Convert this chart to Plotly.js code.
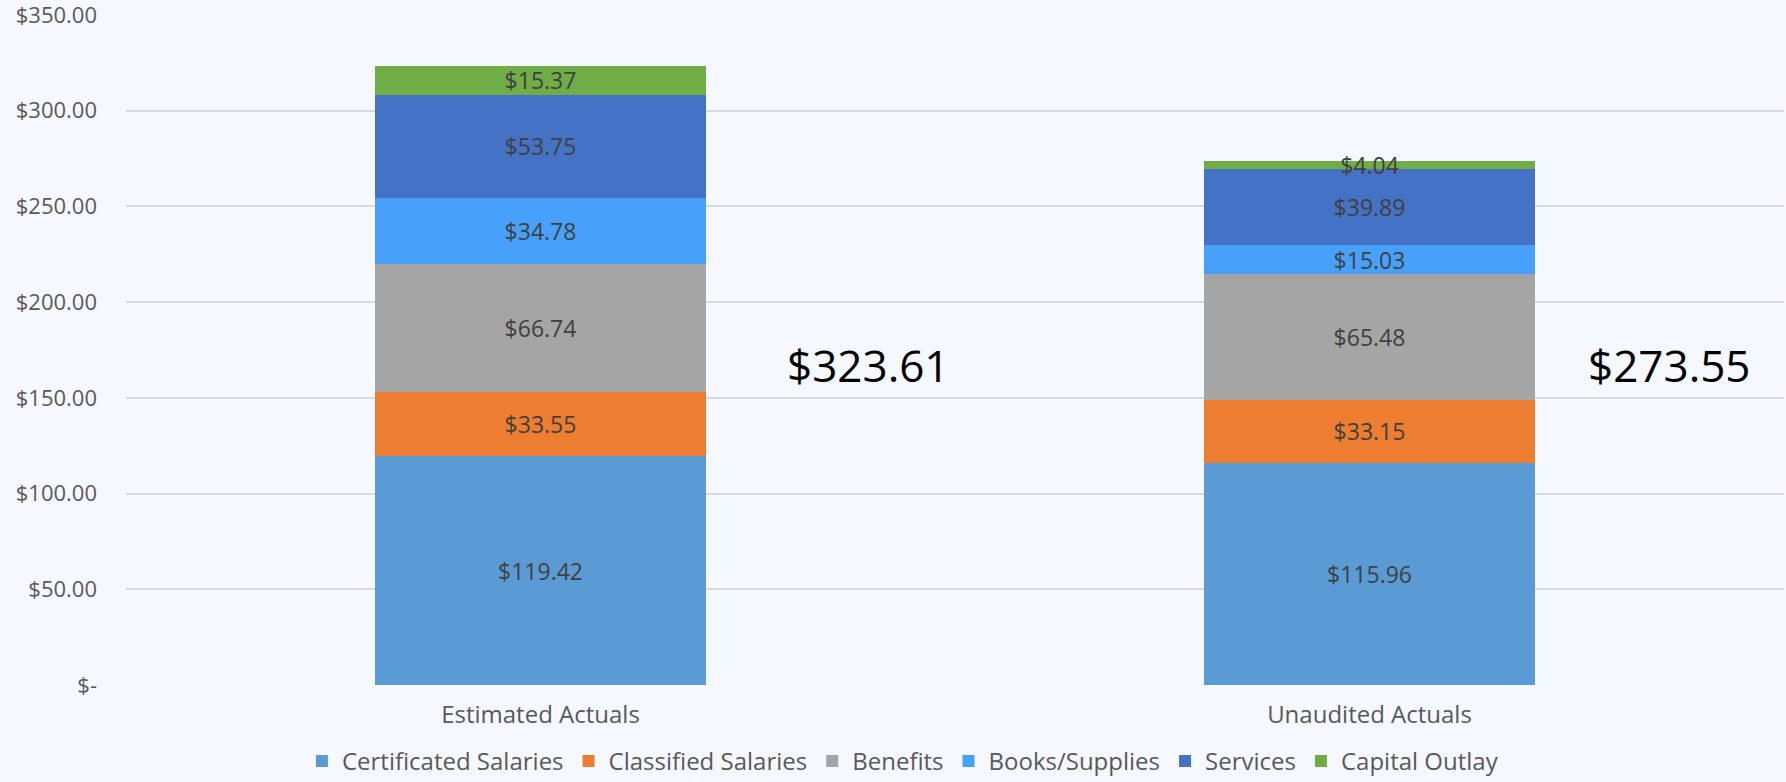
<!DOCTYPE html>
<html>
<head>
<meta charset="utf-8">
<script src="https://cdn.plot.ly/plotly-3.0.1.min.js"></script>
<style>html,body{margin:0;padding:0;background:#F5F8FE;}#chart{width:1786px;height:782px;}</style>
</head>
<body>
<div id="chart"></div>
<script>
const categories = ["Estimated Actuals", "Unaudited Actuals"];
const seriesNames = ["Certificated Salaries", "Classified Salaries", "Benefits", "Books/Supplies", "Services", "Capital Outlay"];
const certificated = [119.42, 115.96];
const classified = [33.55, 33.15];
const benefits = [66.74, 65.48];
const books = [34.78, 15.03];
const services = [53.75, 39.89];
const capital = [15.37, 4.04];
const totals = [323.61, 273.55];
const yTickVals = [0, 50, 100, 150, 200, 250, 300, 350];
const yTickText = ["$-", "$50.00", "$100.00", "$150.00", "$200.00", "$250.00", "$300.00", "$350.00"];

const colors = ["#5B9BD5", "#ED7D31", "#A5A5A5", "#47A1FB", "#4472C4", "#70AD47"];
const seriesValues = [certificated, classified, benefits, books, services, capital];
const FONT = "Century Gothic, Open Sans, sans-serif";

const traces = seriesValues.map((vals, i) => ({
  type: "bar",
  name: seriesNames[i],
  x: categories,
  y: vals,
  marker: {color: colors[i], line: {width: 0}},
  text: vals.map(v => "$" + v.toFixed(2)),
  texttemplate: "%{text}",
  textposition: "inside",
  insidetextanchor: "middle",
  textangle: 0,
  constraintext: "none",
  cliponaxis: false,
  textfont: {family: FONT, size: 23, color: "#404040"},
  hoverinfo: "skip"
}));

const annPos = [0.448, 0.931];
const annotations = totals.map((t, i) => ({
  xref: "paper", yref: "y",
  x: annPos[i], y: 167,
  text: "$" + t.toFixed(2),
  showarrow: false,
  font: {family: FONT, size: 44, color: "#000000"},
  xanchor: "center", yanchor: "middle"
}));

const layout = {
  width: 1786, height: 782,
  paper_bgcolor: "#F5F8FE",
  plot_bgcolor: "#F5F8FE",
  barmode: "stack",
  bargap: 0.6,
  margin: {l: 126, r: 2, t: 15, b: 97, autoexpand: false},
  font: {family: FONT, color: "#595959"},
  xaxis: {
    type: "category",
    tickfont: {family: FONT, size: 24, color: "#595959"},
    showgrid: false,
    zeroline: false,
    showline: false,
    ticks: "",
    ticklabelstandoff: 13
  },
  yaxis: {
    range: [0, 350],
    tickvals: yTickVals,
    ticktext: yTickText,
    tickfont: {family: FONT, size: 22, color: "#595959"},
    ticklabeloverflow: "allow",
    gridcolor: "#D9D9D9",
    gridwidth: 2,
    zeroline: false,
    showline: false,
    ticks: "",
    ticklabelstandoff: 28
  },
  showlegend: true,
  legend: {
    orientation: "h",
    x: 0.4686, xanchor: "center",
    y: -0.114, yanchor: "middle",
    font: {family: FONT, size: 24, color: "#595959"},
    bgcolor: "rgba(0,0,0,0)",
    traceorder: "normal"
  },
  annotations: annotations
};

Plotly.newPlot("chart", traces, layout, {displayModeBar: false, staticPlot: true});
</script>
</body>
</html>
